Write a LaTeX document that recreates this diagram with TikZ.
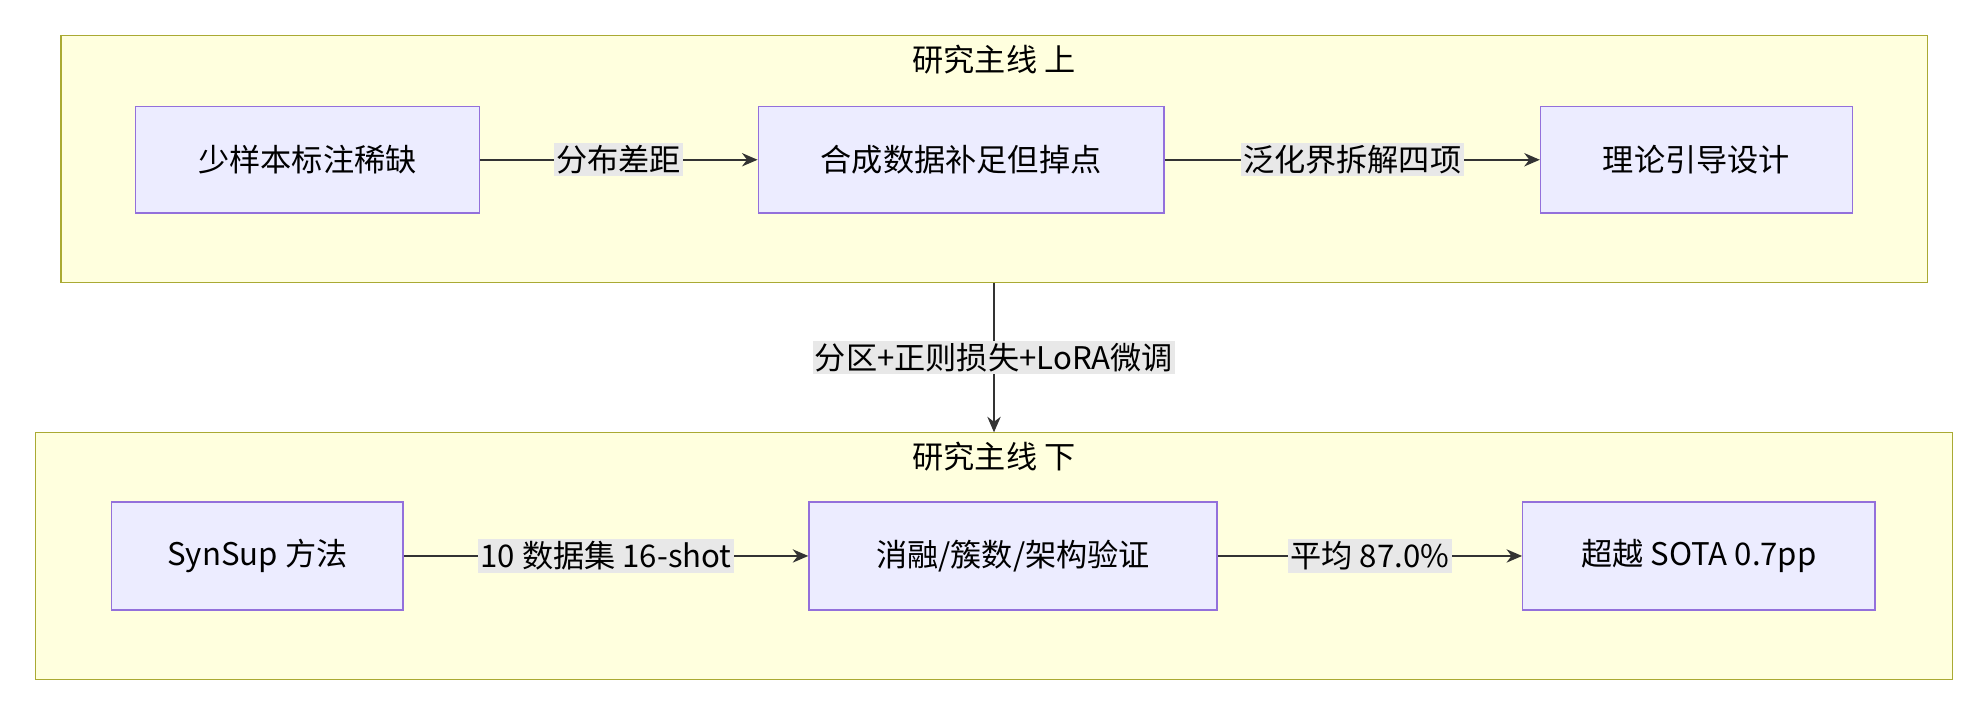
\documentclass[tikz,border=0pt]{standalone}
\usepackage{fontspec}
\setmainfont{Noto Sans CJK SC}
\usetikzlibrary{arrows.meta}
\definecolor{clfill}{HTML}{FFFFDE}
\definecolor{cldraw}{HTML}{AAAA33}
\definecolor{ndfill}{HTML}{ECECFF}
\definecolor{nddraw}{HTML}{9370DB}
\definecolor{lbfill}{HTML}{E8E8E8}
\tikzset{>={Stealth[length=7pt,width=6pt]}}
\tikzset{
  cluster/.style={draw=cldraw, fill=clfill, line width=0.6pt},
  box/.style={draw=nddraw, fill=ndfill, line width=0.6pt, inner sep=0pt},
  lbl/.style={fill=lbfill, inner sep=1pt},
  flow/.style={->, line width=0.7pt, draw=black!80}
}
\begin{document}
\begin{tikzpicture}[x=0.02cm, y=-0.02cm, font=\fontsize{14}{16}\selectfont]
  \useasboundingbox (0,0) rectangle (1568,566);

  % Clusters
  \draw[cluster] (48,28) rectangle (1520,223);
  \node (t1) at (784,47) {研究主线 上};
  \draw[cluster] (28,341) rectangle (1540,536);
  \node (t2) at (784,360) {研究主线 下};

  % Upper line
  \node[box, minimum width=5.42cm, minimum height=1.68cm] (a) at (242.5,126) {少样本标注稀缺};
  \node[box, minimum width=6.4cm, minimum height=1.68cm] (b) at (758,126) {合成数据补足但掉点};
  \node[box, minimum width=4.92cm, minimum height=1.68cm] (c) at (1338,126) {理论引导设计};

  % Lower line
  \node[box, minimum width=4.6cm, minimum height=1.7cm] (d) at (203,438.5) {SynSup 方法};
  \node[box, minimum width=6.44cm, minimum height=1.7cm] (e) at (799,438.5) {消融/簇数/架构验证};
  \node[box, minimum width=5.56cm, minimum height=1.7cm] (f) at (1340,438.5) {超越 SOTA 0.7pp};

  % Edges
  \coordinate (u) at (784,223);
  \coordinate (v) at (784,341);
  \draw[flow] (a) -- node[lbl] {分布差距} (b);
  \draw[flow] (b) -- node[lbl] {泛化界拆解四项} (c);
  \draw[flow] (d) -- node[lbl] {10 数据集 16-shot} (e);
  \draw[flow] (e) -- node[lbl] {平均 87.0\%} (f);
  \draw[flow] (u) -- node[lbl] {分区+正则损失+LoRA微调} (v);
\end{tikzpicture}
\end{document}
